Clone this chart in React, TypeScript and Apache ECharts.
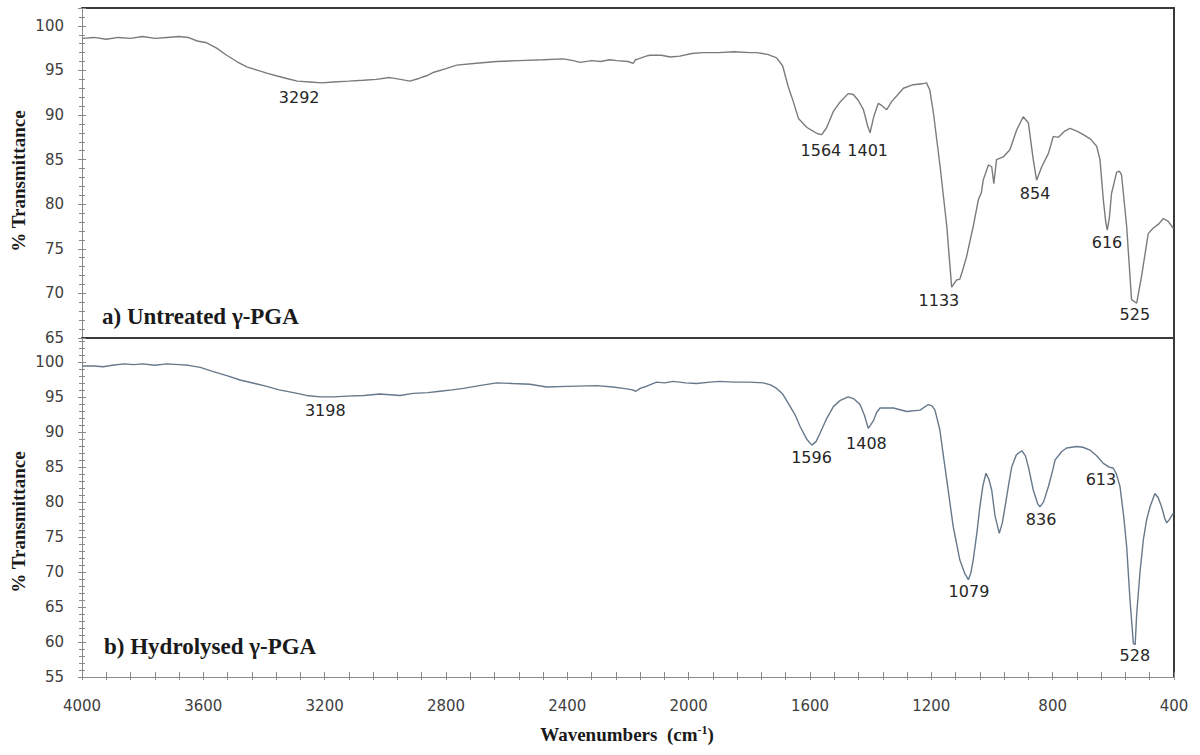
import React, { useEffect, useRef } from "react";
import * as echarts from "echarts";

// ---- Data ----
const topWn = [4000, 3960, 3920, 3880, 3840, 3800, 3760, 3720, 3680, 3650, 3620, 3589, 3556, 3523, 3490, 3457, 3420, 3391, 3360, 3325, 3290, 3248, 3210, 3171, 3120, 3073, 3030, 2985, 2950, 2919, 2890, 2864, 2840, 2800, 2765, 2700, 2633, 2560, 2480, 2413, 2380, 2358, 2320, 2290, 2260, 2237, 2200, 2183, 2175, 2166, 2140, 2128, 2090, 2060, 2029, 1990, 1952, 1900, 1850, 1800, 1776, 1740, 1710, 1690, 1672, 1655, 1638, 1610, 1590, 1575, 1561, 1545, 1523, 1500, 1474, 1457, 1440, 1424, 1410, 1402, 1390, 1375, 1365, 1347, 1331, 1310, 1292, 1260, 1230, 1216, 1205, 1193, 1171, 1149, 1133, 1117, 1106, 1095, 1084, 1062, 1045, 1035, 1029, 1012, 1001, 994, 985, 963, 941, 919, 897, 880, 864, 853, 836, 814, 798, 781, 760, 743, 720, 699, 675, 655, 644, 633, 625, 620, 613, 606, 589, 580, 573, 556, 540, 523, 507, 485, 469, 450, 435, 420, 402];
const topT = [98.6, 98.7, 98.5, 98.7, 98.6, 98.8, 98.6, 98.7, 98.8, 98.7, 98.3, 98.1, 97.5, 96.7, 96.0, 95.4, 95.0, 94.7, 94.4, 94.1, 93.8, 93.7, 93.6, 93.7, 93.8, 93.9, 94.0, 94.2, 94.0, 93.8, 94.1, 94.4, 94.8, 95.2, 95.6, 95.8, 96.0, 96.1, 96.2, 96.3, 96.1, 95.9, 96.1, 96.0, 96.2, 96.1, 96.0, 95.8, 96.2, 96.3, 96.6, 96.7, 96.7, 96.5, 96.6, 96.9, 97.0, 97.0, 97.1, 97.0, 97.0, 96.8, 96.4, 95.5, 93.2, 91.5, 89.6, 88.6, 88.2, 87.9, 87.8, 88.6, 90.4, 91.5, 92.4, 92.3, 91.6, 90.6, 88.8, 88.0, 89.8, 91.3, 91.1, 90.6, 91.5, 92.3, 93.0, 93.4, 93.5, 93.6, 92.8, 90.2, 84.2, 77.5, 70.7, 71.5, 71.6, 72.8, 74.1, 77.5, 80.5, 81.3, 82.7, 84.4, 84.2, 82.3, 85.0, 85.3, 86.1, 88.3, 89.8, 89.1, 85.0, 82.7, 84.2, 85.7, 87.6, 87.5, 88.2, 88.5, 88.2, 87.8, 87.3, 86.5, 85.0, 80.5, 78.0, 77.1, 78.5, 81.2, 83.6, 83.7, 83.3, 77.5, 69.3, 68.9, 71.9, 76.7, 77.3, 77.8, 78.4, 78.1, 77.3];

const botWn = [4000, 3960, 3930, 3900, 3860, 3830, 3800, 3760, 3720, 3680, 3650, 3610, 3567, 3520, 3479, 3430, 3391, 3350, 3303, 3260, 3215, 3170, 3127, 3070, 3018, 2985, 2952, 2908, 2860, 2820, 2780, 2743, 2690, 2633, 2580, 2523, 2468, 2400, 2303, 2250, 2215, 2185, 2174, 2160, 2146, 2106, 2080, 2051, 2010, 1974, 1930, 1897, 1850, 1800, 1754, 1730, 1710, 1690, 1672, 1650, 1633, 1610, 1594, 1580, 1567, 1545, 1523, 1500, 1474, 1455, 1435, 1420, 1408, 1400, 1391, 1380, 1369, 1325, 1281, 1237, 1210, 1198, 1188, 1172, 1160, 1149, 1128, 1106, 1090, 1078, 1070, 1062, 1050, 1040, 1030, 1020, 1010, 1001, 990, 976, 966, 957, 945, 935, 920, 902, 890, 880, 864, 850, 842, 830, 814, 800, 792, 770, 754, 721, 700, 677, 655, 633, 615, 600, 590, 578, 566, 556, 545, 534, 528, 523, 512, 501, 490, 479, 463, 452, 441, 430, 424, 415, 402];
const botT = [99.4, 99.4, 99.3, 99.5, 99.7, 99.6, 99.7, 99.5, 99.7, 99.6, 99.5, 99.2, 98.6, 98.0, 97.4, 96.9, 96.5, 96.0, 95.6, 95.2, 95.0, 95.0, 95.1, 95.2, 95.4, 95.3, 95.2, 95.5, 95.6, 95.8, 96.0, 96.2, 96.6, 97.0, 96.9, 96.8, 96.4, 96.5, 96.6, 96.4, 96.2, 96.0, 95.8, 96.2, 96.4, 97.1, 97.0, 97.2, 97.0, 96.9, 97.1, 97.2, 97.1, 97.1, 97.0, 96.7, 96.2, 95.4, 94.1, 92.5, 90.8, 88.9, 88.1, 88.6, 89.8, 91.9, 93.6, 94.5, 95.0, 94.7, 93.9, 92.3, 90.5, 91.0, 91.6, 92.8, 93.4, 93.4, 92.9, 93.1, 93.9, 93.7, 93.1, 90.3, 86.5, 83.1, 76.5, 71.7, 69.8, 68.9, 69.8, 71.7, 75.5, 79.3, 82.3, 84.1, 83.2, 81.7, 78.0, 75.5, 77.0, 79.3, 82.5, 85.0, 86.7, 87.3, 86.6, 85.0, 81.7, 79.8, 79.3, 80.0, 82.2, 84.5, 86.0, 87.2, 87.7, 87.9, 87.8, 87.4, 86.6, 85.5, 85.0, 84.8, 84.0, 82.2, 78.0, 73.6, 66.0, 59.8, 59.6, 64.0, 70.0, 74.6, 77.5, 79.3, 81.2, 80.6, 79.3, 77.6, 77.0, 77.5, 78.4];

// Peak annotations: [text, wavenumber, transmittance] where the label sits
const topPeaks: [string, number, number][] = [
  ["3292", 3284, 92.0],
  ["1564", 1564, 86.0],
  ["1401", 1410, 86.0],
  ["1133", 1175, 69.2],
  ["854", 858, 81.2],
  ["616", 621, 75.7],
  ["525", 529, 67.6],
];
const botPeaks: [string, number, number][] = [
  ["3198", 3198, 93.0],
  ["1596", 1595, 86.4],
  ["1408", 1414, 88.4],
  ["1079", 1076, 67.2],
  ["836", 838, 77.5],
  ["613", 641, 83.2],
  ["528", 529, 58.1],
];

const xTickLabels = [4000, 3600, 3200, 2800, 2400, 2000, 1600, 1200, 800, 400];
const topYTicks = [65, 70, 75, 80, 85, 90, 95, 100];
const botYTicks = [55, 60, 65, 70, 75, 80, 85, 90, 95, 100];

const GRAY = "#8a8a8a";
const DARK = "#3a3a3a";
const LABEL_FONT = "'DejaVu Sans', Verdana, sans-serif";
const SERIF = "'Liberation Serif', 'Times New Roman', serif";

function yAxesFor(gridIndex: number, min: number, max: number, ticks: number[]) {
  const base = { type: "value", gridIndex, min, max, splitLine: { show: false } };
  return [
    {
      ...base,
      position: "left",
      interval: 5,
      axisLine: { show: true, onZero: false, lineStyle: { color: GRAY, width: 1 } },
      axisTick: { show: true, inside: false, length: 4, lineStyle: { color: GRAY } },
      axisLabel: {
        show: true,
        margin: 18,
        color: "#404040",
        fontSize: 15,
        fontFamily: LABEL_FONT,
        formatter: (v: number) => (ticks.indexOf(v) >= 0 ? String(v) : ""),
      },
    },
    {
      ...base,
      position: "left",
      interval: 5,
      axisLine: { show: false, onZero: false },
      axisTick: { show: true, inside: true, length: 4, lineStyle: { color: GRAY } },
      axisLabel: { show: false },
    },
    {
      ...base,
      position: "left",
      interval: 1,
      axisLine: { show: false, onZero: false },
      axisTick: { show: true, inside: false, length: 3, lineStyle: { color: GRAY } },
      axisLabel: { show: false },
    },
    {
      ...base,
      position: "left",
      interval: 1,
      axisLine: { show: false, onZero: false },
      axisTick: { show: true, inside: true, length: 3, lineStyle: { color: GRAY } },
      axisLabel: { show: false },
    },
    {
      ...base,
      position: "right",
      axisLine: { show: true, onZero: false, lineStyle: { color: DARK, width: 2 } },
      axisTick: { show: false },
      axisLabel: { show: false },
    },
  ];
}

function peakMarks(peaks: [string, number, number][]) {
  return {
    symbol: "circle",
    symbolSize: 0,
    silent: true,
    label: {
      show: true,
      position: "inside",
      formatter: "{b}",
      color: "#262626",
      fontSize: 16,
      fontFamily: LABEL_FONT,
    },
    data: peaks.map(([t, x, y]) => ({ name: t, coord: [x, y] })),
  };
}

export default function App() {
  const ref = useRef<HTMLDivElement>(null);
  useEffect(() => {
    if (!ref.current) return;
    const chart = echarts.init(ref.current, undefined, { renderer: "svg" });
    const xBase = { type: "value", min: 400, max: 4000, inverse: true, splitLine: { show: false } };
    const option: any = {
      animation: false,
      backgroundColor: "#ffffff",
      grid: [
        { left: 82, top: 8, width: 1092, height: 330 },
        { left: 82, top: 338, width: 1092, height: 339 },
      ],
      xAxis: [
        {
          ...xBase,
          gridIndex: 0,
          position: "bottom",
          axisLine: { show: true, onZero: false, lineStyle: { color: DARK, width: 2 } },
          axisTick: { show: false },
          axisLabel: { show: false },
        },
        {
          ...xBase,
          gridIndex: 0,
          position: "top",
          axisLine: { show: true, onZero: false, lineStyle: { color: DARK, width: 2 } },
          axisTick: { show: false },
          axisLabel: { show: false },
        },
        {
          ...xBase,
          gridIndex: 1,
          position: "bottom",
          interval: 400,
          axisLine: { show: true, onZero: false, lineStyle: { color: GRAY, width: 1 } },
          axisTick: { show: false },
          axisLabel: {
            show: true,
            margin: 21,
            color: "#404040",
            fontSize: 15,
            fontFamily: LABEL_FONT,
            formatter: (v: number) => (xTickLabels.indexOf(v) >= 0 ? String(v) : ""),
          },
        },
        {
          ...xBase,
          gridIndex: 1,
          position: "bottom",
          interval: 80,
          axisLine: { show: false, onZero: false },
          axisTick: { show: true, inside: true, length: 5, lineStyle: { color: GRAY } },
          axisLabel: { show: false },
        },
        {
          ...xBase,
          gridIndex: 1,
          position: "bottom",
          interval: 80,
          axisLine: { show: false, onZero: false },
          axisTick: { show: true, inside: false, length: 3, lineStyle: { color: GRAY } },
          axisLabel: { show: false },
        },
      ],
      yAxis: [...yAxesFor(0, 65, 102, topYTicks), ...yAxesFor(1, 55, 103.4, botYTicks)],
      series: [
        {
          type: "line",
          name: "a) Untreated γ-PGA",
          xAxisIndex: 0,
          yAxisIndex: 0,
          data: topWn.map((w, i) => [w, topT[i]]),
          showSymbol: false,
          symbol: "none",
          lineStyle: { color: "#7b7b7b", width: 1.4 },
          markPoint: peakMarks(topPeaks),
          silent: true,
        },
        {
          type: "line",
          name: "b) Hydrolysed γ-PGA",
          xAxisIndex: 2,
          yAxisIndex: 5,
          data: botWn.map((w, i) => [w, botT[i]]),
          showSymbol: false,
          symbol: "none",
          lineStyle: { color: "#66788a", width: 1.4 },
          markPoint: peakMarks(botPeaks),
          silent: true,
        },
      ],
      graphic: [
        {
          type: "text",
          x: 18,
          y: 181,
          rotation: Math.PI / 2,
          style: {
            text: "% Transmittance",
            fontFamily: SERIF,
            fontWeight: "bold",
            fontSize: 19,
            fill: "#1a1a1a",
            textAlign: "center",
            textVerticalAlign: "middle",
          },
        },
        {
          type: "text",
          x: 18,
          y: 522,
          rotation: Math.PI / 2,
          style: {
            text: "% Transmittance",
            fontFamily: SERIF,
            fontWeight: "bold",
            fontSize: 19,
            fill: "#1a1a1a",
            textAlign: "center",
            textVerticalAlign: "middle",
          },
        },
        {
          type: "text",
          x: 102,
          y: 316,
          style: {
            text: "a) Untreated γ-PGA",
            fontFamily: SERIF,
            fontWeight: "bold",
            fontSize: 23,
            fill: "#1a1a1a",
            textAlign: "left",
            textVerticalAlign: "middle",
          },
        },
        {
          type: "text",
          x: 104,
          y: 646,
          style: {
            text: "b) Hydrolysed γ-PGA",
            fontFamily: SERIF,
            fontWeight: "bold",
            fontSize: 23,
            fill: "#1a1a1a",
            textAlign: "left",
            textVerticalAlign: "middle",
          },
        },
        {
          type: "text",
          x: 627,
          y: 734,
          style: {
            text: "{a|Wavenumbers  (cm}{s|-1}{a|)}",
            textAlign: "center",
            textVerticalAlign: "middle",
            rich: {
              a: { fontFamily: SERIF, fontWeight: "bold", fontSize: 19, fill: "#1a1a1a", color: "#1a1a1a" },
              s: {
                fontFamily: SERIF,
                fontWeight: "bold",
                fontSize: 12,
                fill: "#1a1a1a",
                color: "#1a1a1a",
                verticalAlign: "top",
                padding: [0, 0, 8, 0],
              },
            },
          },
        },
      ],
    };
    chart.setOption(option);
    return () => chart.dispose();
  }, []);
  return (
    <div
      ref={ref}
      style={{ position: "fixed", left: 0, top: 0, width: 1200, height: 755, background: "#fff" }}
    />
  );
}
